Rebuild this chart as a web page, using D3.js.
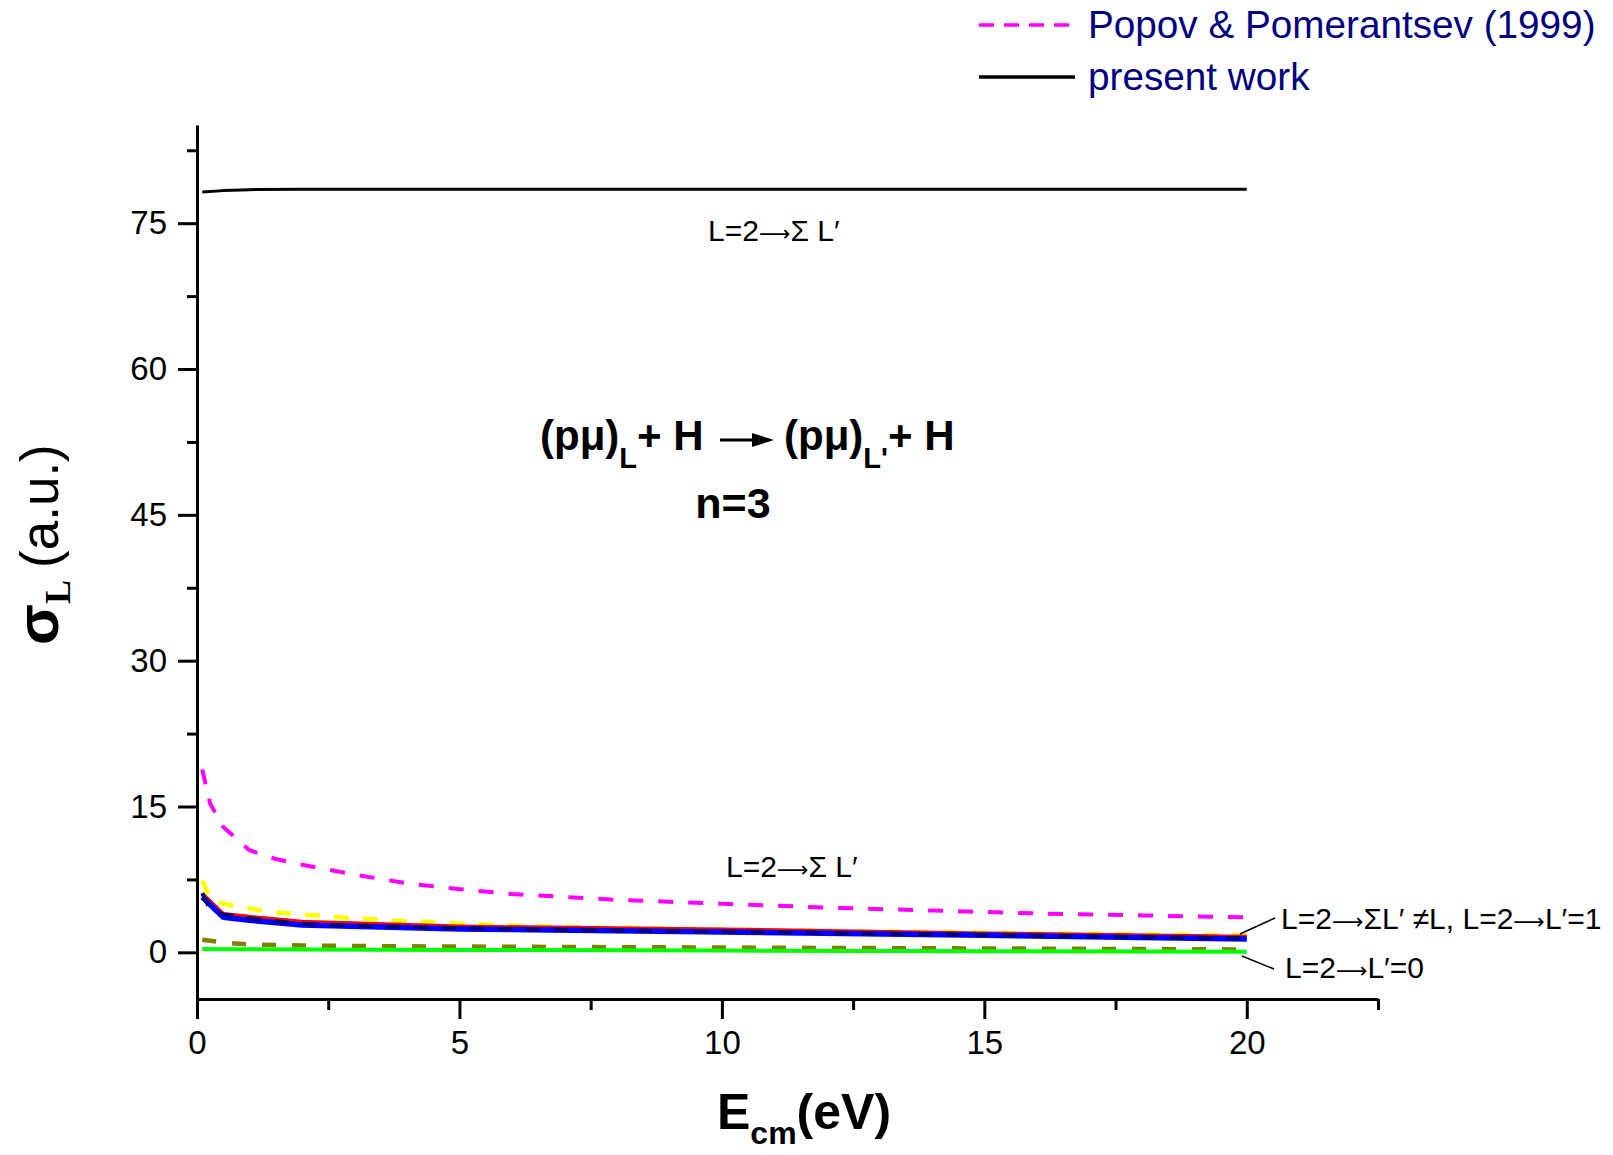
<!DOCTYPE html>
<html>
<head>
<meta charset="utf-8">
<script src="https://cdn.jsdelivr.net/npm/d3@7"></script>
<style>
  html, body { margin: 0; padding: 0; background: #fff; }
  svg { display: block; }
  text { font-family: "Liberation Sans", Arial, sans-serif; }
</style>
</head>
<body>
<svg id="chart" width="1613" height="1155"></svg>
<script>
// Energy grids (eV, centre-of-mass)
const energyPresent = [0.1, 0.5, 1, 2, 5, 10, 15, 20];
const energyPopov   = [0.1, 0.25, 0.5, 1, 1.5, 2, 3, 4, 5, 6, 7, 8, 10, 12, 14, 16, 18, 20];

// Present work (solid lines), cross sections in a.u.
const presentTotal = [78.2, 78.35, 78.45, 78.5, 78.5, 78.5, 78.5, 78.5];   // L=2 -> sum L'
const presentNeqL  = [6.0, 3.95, 3.65, 3.15, 2.65, 2.35, 1.95, 1.6];       // L=2 -> sum L' != L
const presentL1    = [5.7, 3.6, 3.3, 2.8, 2.4, 2.1, 1.75, 1.37];          // L=2 -> L'=1
const presentL0    = [0.35, 0.33, 0.31, 0.29, 0.25, 0.18, 0.12, 0.07];    // L=2 -> L'=0

// Popov & Pomerantsev (1999) (dashed lines)
const popovTotal = [18.8, 15.3, 12.9, 10.5, 9.6, 9.0, 8.0, 7.1, 6.5, 6.0, 5.7, 5.4, 5.0, 4.6, 4.3, 4.0, 3.8, 3.6];
const popovNeqL  = [7.4, 5.6, 5.0, 4.5, 4.1, 3.9, 3.5, 3.2, 2.95, 2.75, 2.6, 2.5, 2.35, 2.2, 2.1, 1.95, 1.85, 1.75];
const popovL1    = [6.1, 4.4, 3.9, 3.5, 3.2, 2.95, 2.75, 2.6, 2.5, 2.4, 2.3, 2.25, 2.15, 2.0, 1.85, 1.7, 1.55, 1.45];
const popovL0    = [1.3, 1.2, 1.0, 0.8, 0.75, 0.7, 0.65, 0.62, 0.6, 0.57, 0.55, 0.53, 0.5, 0.45, 0.42, 0.38, 0.34, 0.3];

// Axis ticks
const xMajorTicks = [0, 5, 10, 15, 20];
const xMinorTicks = [2.5, 7.5, 12.5, 17.5, 22.5];
const yMajorTicks = [0, 15, 30, 45, 60, 75];
const yMinorTicks = [7.5, 22.5, 37.5, 52.5, 67.5, 82.5];

const legendLabels = ["Popov & Pomerantsev (1999)", "present work"];

const svg = d3.select("#chart");

const x = d3.scaleLinear().domain([0, 22.5]).range([197, 1378]);
const y = d3.scaleLinear().domain([-4.8, 85.1]).range([999, 125]);

const line = d3.line().x(d => x(d[0])).y(d => y(d[1]));
const pairs = (es, vs) => es.map((e, i) => [e, vs[i]]);

const series = [
  { e: energyPopov,   v: popovTotal,   color: "#ff00ff", w: 4, dash: "15,15" },
  { e: energyPopov,   v: popovNeqL,    color: "#ffff00", w: 4.5, dash: "15,14" },
  { e: energyPopov,   v: popovL0,      color: "#808000", w: 4.5, dash: "14,16" },
  { e: energyPresent, v: presentL0,    color: "#00ff00", w: 4, dash: null },
  { e: energyPresent, v: presentNeqL,  color: "#ff0000", w: 4, dash: null },
  { e: energyPresent, v: presentL1,    color: "#0000ff", w: 5.5, dash: null },
  { e: energyPopov,   v: popovL1,      color: "#000080", w: 4, dash: "14,14" },
  { e: energyPresent, v: presentTotal, color: "#000000", w: 3, dash: null }
];

svg.append("g").selectAll("path")
  .data(series)
  .join("path")
  .attr("d", s => line(pairs(s.e, s.v)))
  .attr("fill", "none")
  .attr("stroke", s => s.color)
  .attr("stroke-width", s => s.w)
  .attr("stroke-dasharray", s => s.dash)
  .attr("stroke-linejoin", "round");

// Axes
function styleAxis(g) {
  g.selectAll("path.domain").attr("stroke", "#000").attr("stroke-width", 3);
  g.selectAll(".tick line").attr("stroke", "#000").attr("stroke-width", 3);
  g.selectAll(".tick text").attr("fill", "#000")
    .style("font-family", '"Liberation Sans", Arial, sans-serif')
    .style("font-size", "33px");
}

const gx = svg.append("g").attr("transform", `translate(0,${y(-4.8)})`)
  .call(d3.axisBottom(x).tickValues(xMajorTicks).tickSize(20).tickPadding(12).tickSizeOuter(0));
styleAxis(gx);
const gxMinor = svg.append("g").attr("transform", `translate(0,${y(-4.8)})`)
  .call(d3.axisBottom(x).tickValues(xMinorTicks).tickSize(11).tickFormat("").tickSizeOuter(0));
styleAxis(gxMinor);
gxMinor.select("path.domain").remove();

const gy = svg.append("g").attr("transform", `translate(${x(0)},0)`)
  .call(d3.axisLeft(y).tickValues(yMajorTicks).tickSize(19).tickPadding(11).tickSizeOuter(0));
styleAxis(gy);
const gyMinor = svg.append("g").attr("transform", `translate(${x(0)},0)`)
  .call(d3.axisLeft(y).tickValues(yMinorTicks).tickSize(10).tickFormat("").tickSizeOuter(0));
styleAxis(gyMinor);
gyMinor.select("path.domain").remove();

// Axis titles
const xt = svg.append("text").attr("x", 717).attr("y", 1129)
  .style("font-weight", "bold").style("font-size", "50px");
xt.append("tspan").text("E");
xt.append("tspan").attr("dy", 15).style("font-size", "32px").text("cm");
xt.append("tspan").attr("dy", -15).text("(eV)");

const yt = svg.append("text").attr("transform", "translate(58,645) rotate(-90)");
yt.append("tspan").style("font-size", "60px").style("font-weight", "bold").text("σ");
yt.append("tspan").attr("dy", 12).style("font-size", "36px").style("font-weight", "bold")
  .style("font-family", '"Liberation Serif", "Times New Roman", serif').text("L");
yt.append("tspan").attr("dy", -12).attr("dx", 12).style("font-size", "53px").text("(a.u.)");

// Reaction label
const r1 = svg.append("text").attr("x", 540).attr("y", 450)
  .style("font-weight", "bold").style("font-size", "42px");
r1.append("tspan").text("(pμ)");
r1.append("tspan").attr("dy", 18).style("font-size", "29px").text("L");
r1.append("tspan").attr("dy", -18).text("+ H");

svg.append("line").attr("x1", 720).attr("x2", 755).attr("y1", 440).attr("y2", 440)
  .attr("stroke", "#000").attr("stroke-width", 3);
svg.append("path").attr("d", "M752,433 L774,440 L752,447 Z").attr("fill", "#000");

const r2 = svg.append("text").attr("x", 784).attr("y", 450)
  .style("font-weight", "bold").style("font-size", "42px");
r2.append("tspan").text("(pμ)");
r2.append("tspan").attr("dy", 18).style("font-size", "29px").text("L'");
r2.append("tspan").attr("dy", -18).text("+ H");

svg.append("text").attr("x", 733).attr("y", 518).attr("text-anchor", "middle")
  .style("font-weight", "bold").style("font-size", "43px").text("n=3");

// Curve annotations; arrows set as a long thin arrow glyph
const ann = [
  { x: 708, y: 241, t: "L=2→Σ L′" },
  { x: 726, y: 877, t: "L=2→Σ L′" },
  { x: 1281, y: 929, t: "L=2→ΣL′ ≠L, L=2→L′=1" },
  { x: 1285, y: 978, t: "L=2→L′=0" }
];
const annText = svg.append("g").selectAll("text").data(ann).join("text")
  .attr("x", d => d.x).attr("y", d => d.y)
  .style("font-size", "30px").attr("fill", "#000");
annText.each(function (d) {
  const t = d3.select(this);
  d.t.split(/(→)/).filter(s => s.length).forEach(part => {
    if (part === "→") {
      t.append("tspan").text("⟶")
        .style("font-family", '"DejaVu Sans", sans-serif').style("font-size", "22px");
    } else {
      t.append("tspan").text(part);
    }
  });
});

svg.append("line").attr("x1", 1240).attr("y1", 934).attr("x2", 1275).attr("y2", 918)
  .attr("stroke", "#000").attr("stroke-width", 1.5);
svg.append("line").attr("x1", 1242).attr("y1", 956).attr("x2", 1274).attr("y2", 969)
  .attr("stroke", "#000").attr("stroke-width", 1.5);

// Legend
const legend = svg.append("g");
const legendStyles = [
  { color: "#ff00ff", dash: "15,10", y: 25 },
  { color: "#000000", dash: null, y: 77 }
];
legend.selectAll("line").data(legendStyles).join("line")
  .attr("x1", 979).attr("x2", 1075).attr("y1", d => d.y).attr("y2", d => d.y)
  .attr("stroke", d => d.color).attr("stroke-width", 3.5)
  .attr("stroke-dasharray", d => d.dash);
legend.selectAll("text").data(legendLabels).join("text")
  .attr("x", 1088).attr("y", (d, i) => legendStyles[i].y + 13)
  .attr("fill", "#000080").style("font-size", "38.7px").text(d => d);
</script>
</body>
</html>
